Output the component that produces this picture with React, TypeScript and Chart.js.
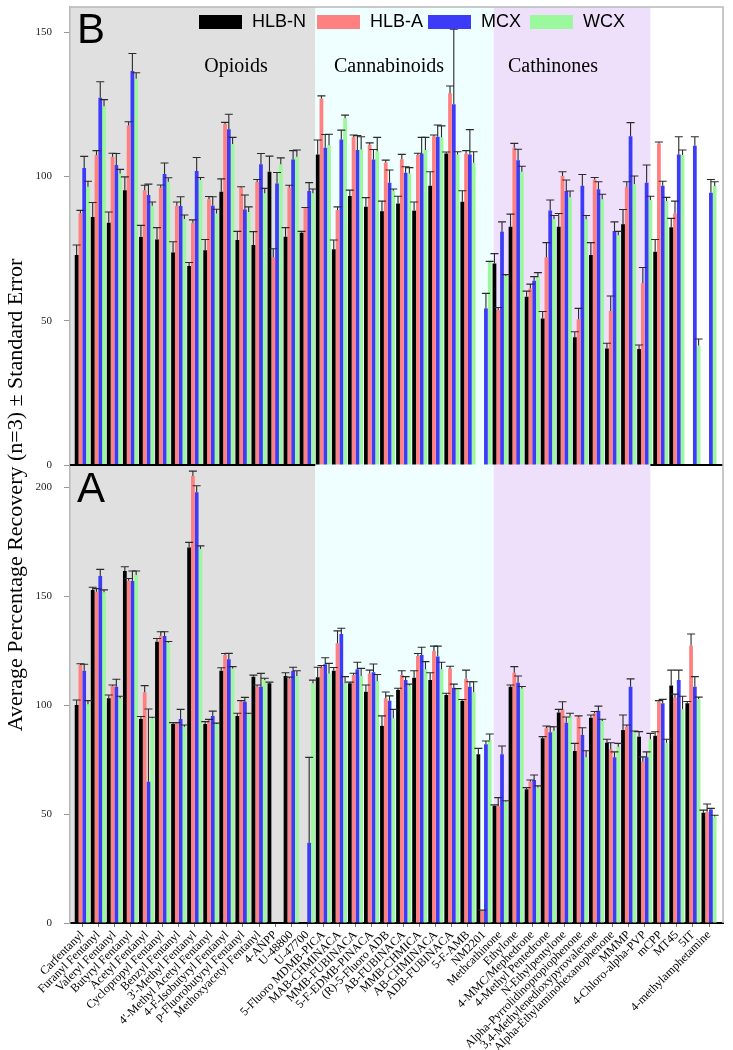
import React, { useEffect, useRef } from "react";
import { Chart, registerables } from "chart.js";

Chart.register(...registerables);

// ---------- categories ----------
const compounds = [
  "Carfentanyl", "Furanyl Fentanyl", "Valeryl Fentanyl", "Butyryl Fentanyl", "Acetyl Fentanyl",
  "Cyclopropyl Fentanyl", "Benzyl Fentanyl", "3'-Methyl Fentanyl", "4'-Methyl Acetyl Fentanyl",
  "4-F-Isobutyryl Fentanyl", "p-Fluorobutyryl Fentanyl", "Methoxyacetyl Fentanyl", "4-ANPP",
  "U-48800", "U-47700", "5-Fluoro MDMB-PICA", "MAB-CHMINACA", "MMB-FUBINACA", "5-F-EDMB-PINACA",
  "(R)-5-Fluoro ADB", "AB-FUBINACA", "MMB-CHMICA", "AB-CHMINACA", "ADB-FUBINACA", "5-F-AMB",
  "NM2201", "Methcathinone", "Ethylone", "4-MMC/Mephedrone", "4-Methyl Pentedrone",
  "N-Ethylpentylone", "Alpha-Pyrrolidinopropiophenone", "3,4-Methylenedioxypyrovalerone",
  "Alpha-Ethylaminohexanophenone", "MMMP", "4-Chloro-alpha-PVP", "mCPP", "MT45", "5IT",
  "4-methylamphetamine",
];

const seriesNames = ["HLB-N", "HLB-A", "MCX", "WCX"];
const classNames = ["Opioids", "Cannabinoids", "Cathinones"];
const panelNames = ["B", "A"];
const yTicksB = [0, 50, 100, 150];
const yTicksA = [0, 50, 100, 150, 200];
const yTitle = "Average Percentage Recovery (n=3) \u00b1 Standard Error";

// ---------- panel B (top) ----------
const bHlbN = [72.8, 86, 84, 95.3, 79.1, 78.2, 73.7, 69, 74.5, 94.7, 78, 76.3, 101.7, 79.1, 80.5, 107.7, 74.8, 93.3, 89.5, 88, 90.7, 88.2, 96.8, 108, 91.3, null, 69.9, 82.6, 58.3, 50.8, 82.6, 44.3, 72.8, 40.4, 83.5, 40.2, 73.9, 82.4, null, null];
const bHlbNErr = [3.5, 5, 3.7, 4.6, 4, 4.1, 3.7, 1.2, 3.7, 4.5, 3, 4.6, 5.4, 3.2, 0.5, 5, 3.2, 2, 3.2, 3.5, 2.5, 3, 4.9, 0.5, 3.8, null, 3.4, 4.4, 2, 2.4, 4.6, 1.9, 4.3, 1.8, 5.1, 1.4, 4.3, 3.1, null, null];
const bHlbA = [87.3, 107.5, 106.9, 117.7, 95.3, 96.1, 89.9, 84, 92.1, 118.2, 96.1, 98.1, 72, 96.2, 89, 127.1, 88.4, 113.8, 111, 104.9, 106, 107.5, 114, 128.9, 108, null, 53.7, 110, 61.2, 72, 100.2, 50.5, 99, 53.4, 96.5, 63, 111.5, 87.2, null, null];
const bHlbAErr = [1, 1.5, 1.2, 1.3, 1.7, 1, 1.3, 1, 1, 0.6, 0.4, 0.9, 3, 0.8, 0.3, 0.9, 1.1, 0.6, 0.7, 0.8, 1.7, 0.6, 0.4, 2.5, 1, null, 0.9, 1.5, 1.5, 5.1, 1.5, 3.8, 0.7, 5.2, 1.7, 5.5, 0.5, 4.3, null, null];
const bMcx = [103, 127.3, 104, 136.6, 93.6, 100.9, 89.8, 101.9, 89.9, 116.4, 88.6, 104.3, 97.6, 105.9, 95, 110, 112.9, 109.2, 105.9, 97.9, 101.3, 108, 113.8, 125.1, 107.7, 54.3, 80.9, 105.7, 63.9, 88.2, 95, 96.8, 95.6, 81.1, 114, 97.9, 96.8, 107.7, 110.7, 94.4];
const bMcxErr = [4, 5.6, 4, 6.1, 3.8, 3.8, 3.2, 4.7, 3.1, 5.2, 5, 3.7, 3.8, 3.1, 2.9, 4.6, 3.2, 5, 3.5, 4.4, 2.1, 5.6, 4.1, 26, 8.6, 5.2, 3.4, 3.8, 1.4, 3.7, 3.8, 3.9, 2.6, 3.2, 4.7, 6.1, 1.6, 6.1, 3.1, 4.6];
const bWcx = [96.5, 124.4, 101.1, 133.9, 89.9, 98.2, 85.3, 98.8, 87.2, 111.3, 87.7, 94.2, 104.3, 106.9, 94.2, 110.9, 120.2, 109.4, 108.8, 95.1, 101.1, 109.2, 113.6, 107.7, 104.8, 70.3, 65.5, 101.7, 65.3, 85.3, 92.8, 85.2, 92.1, 79.7, 97.4, 91.9, 91.5, 107.5, 41.4, 96.7];
const bWcxErr = [1.9, 2.3, 1.4, 2.1, 1.3, 1.4, 1.4, 0.9, 1.5, 2.3, 1.8, 1.7, 2.2, 2.3, 1.5, 3.8, 1.1, 4.4, 4.8, 0.6, 2, 4.4, 4, 0.9, 3.8, 0.3, 0.5, 1.9, 1.4, 1.2, 2.2, 1.3, 1.8, 1.3, 2.8, 1.3, 1.3, 1.7, 2.3, 1.5];

// ---------- panel A (bottom) ----------
const aHlbN = [100, 152.8, 103.1, 161.5, 93.6, 129, 91.3, 172.3, 91.3, 115.7, 95, 113, 110, 113.3, null, 112.7, 115.7, 110, 106.1, 90.4, 106.9, 112.5, 111.5, 104.6, 102, 77.4, 53.8, 108.4, 61.3, 84.7, 96.6, 78.9, 94.2, 82.7, 88.5, 85.5, 85.9, 108.9, 100.8, 50.6];
const aHlbNErr = [2.3, 1.2, 1.5, 1.9, 1.1, 1.5, 0.6, 2.3, 1.1, 1.4, 1.2, 0.7, 0.5, 1.5, null, 4.6, 1.5, 0.5, 3.1, 4.6, 0.8, 3.2, 3.3, 0.8, 0.5, 2.7, 0.4, 0.8, 0.8, 0.8, 1.4, 3.5, 1.2, 1.6, 6.9, 2.3, 1.8, 7.1, 0.8, 1.2];
const aHlbA = [118.3, 152, 108.7, 157, 105.8, 131.8, 91.6, 205, 92.8, 122.9, 101.5, 108.4, null, 112, null, 117.6, 128.3, 113.8, 114.5, 103.1, 113.8, 122.5, 124.8, 116.8, 112, 5.6, 53.7, 114.8, 64.8, 89.3, 98, 94.4, 96.2, 79.7, 90, 74, 101.5, 103.5, 127.2, 51];
const aHlbAErr = [0.6, 1.4, 0.5, 1, 3.1, 1.8, 0.3, 2.3, 0.6, 0.7, 0.5, 0.8, null, 0.8, null, 0.5, 5.7, 0.8, 1.5, 2.9, 1.9, 1.1, 2.2, 1, 4, 0.3, 3.8, 2.8, 0.8, 1.1, 3.5, 0.6, 0.8, 3, 0.8, 2.2, 0.5, 1.5, 5.4, 3.6];
const aMcx = [115.7, 159.2, 108.4, 156.9, 64.8, 131.7, 93.6, 197.6, 95, 121, 101.5, 108.4, null, 115.6, 36.8, 118.7, 132.6, 116.4, 115, 102, 111.5, 122.9, 122.2, 107.9, 108.4, 82, 77.4, 110.2, 65.6, 87.5, 91.9, 86.2, 97.4, 76, 108.4, 76, 100.8, 111.5, 108.4, 52.1];
const aMcxErr = [3, 3, 3.4, 4.6, 33.4, 1.9, 4.4, 3, 2.2, 2.7, 2, 6.1, null, 1.7, 39.2, 3, 2.6, 3.2, 3.8, 2.2, 1.5, 3.6, 4.8, 1.7, 2.3, 1.5, 3.8, 3.1, 2.3, 2.5, 2.6, 3.4, 2.1, 2.5, 3.6, 2.5, 1.8, 4.5, 4.6, 0.5];
const aWcx = [100.3, 151.7, 103.1, 159.6, 93.9, 128.6, 90, 171.6, 91.3, 116.8, 95.9, 111.5, null, 113.3, 110, 114.5, 110, 113.3, 111, 93.9, 108.9, 116.4, 116.4, 107.2, 105.8, 83.9, 55.6, 107.6, 62.2, 88.2, 95, 76, 92.7, 80.9, 87.5, 84.3, 82.7, 98, 102.8, 48.8];
const aWcxErr = [1.7, 1.1, 0.9, 1.9, 0.5, 0.5, 0.8, 1.4, 0.4, 0.8, 0.3, 0.8, null, 2.4, 1.4, 4.6, 3, 3.5, 3, 4.1, 0.7, 3.5, 3.2, 0.3, 4.9, 2.8, 0.5, 0.9, 0.7, 1.8, 1.2, 3, 0.8, 1.5, 0.6, 2.7, 1.6, 6, 0.8, 0.6];

const SERIF = '"Liberation Serif", "Times New Roman", serif';
const SANS = '"Liberation Sans", Arial, sans-serif';
const COLORS = ["#000000", "#FF8080", "#3C3CF8", "#9CF89C"];

export default function App() {
  const ref = useRef<HTMLCanvasElement>(null);

  useEffect(() => {
    const canvas = ref.current;
    if (!canvas) return;

    const panelA = [aHlbN, aHlbA, aMcx, aWcx];
    const panelAErr = [aHlbNErr, aHlbAErr, aMcxErr, aWcxErr];
    const panelB = [bHlbN, bHlbA, bMcx, bWcx];
    const panelBErr = [bHlbNErr, bHlbAErr, bMcxErr, bWcxErr];

    const datasets: any[] = [];
    const errList: any[] = [];
    seriesNames.forEach((name, s) => {
      datasets.push({
        label: name + " A",
        data: panelA[s].map((v, i) => ({ x: i, y: v })),
        backgroundColor: COLORS[s],
        yAxisID: "yA",
        stack: "s" + s,
      });
      errList.push(panelAErr[s]);
    });
    seriesNames.forEach((name, s) => {
      datasets.push({
        label: name + " B",
        data: panelB[s].map((v, i) => ({ x: i, y: v })),
        backgroundColor: COLORS[s],
        yAxisID: "yB",
        stack: "s" + s,
      });
      errList.push(panelBErr[s]);
    });

    const decor = {
      id: "decor",
      beforeDraw(chart: any) {
        const { ctx, chartArea: ca, scales } = chart;
        const x = scales.x;
        ctx.save();
        ctx.fillStyle = "#ffffff";
        ctx.fillRect(0, 0, chart.width, chart.height);
        const bands = [
          { from: ca.left, to: x.getPixelForValue(14.5), color: "#E0E0E0" },
          { from: x.getPixelForValue(14.5), to: x.getPixelForValue(25.6), color: "#EFFEFF" },
          { from: x.getPixelForValue(25.6), to: x.getPixelForValue(35.35), color: "#EEE0FB" },
        ];
        bands.forEach((b) => {
          ctx.fillStyle = b.color;
          ctx.fillRect(b.from, ca.top, b.to - b.from, ca.bottom - ca.top);
        });
        ctx.restore();
      },
      afterDatasetsDraw(chart: any) {
        const { ctx, chartArea: ca, scales } = chart;
        const x = scales.x;
        ctx.save();
        // error bars
        chart.data.datasets.forEach((ds: any, di: number) => {
          const meta = chart.getDatasetMeta(di);
          const ys = scales[ds.yAxisID];
          const errs = errList[di];
          meta.data.forEach((bar: any, i: number) => {
            const v = ds.data[i].y;
            const e = errs[i];
            if (v == null || e == null) return;
            const yBar = ys.getPixelForValue(v);
            const yTop = ys.getPixelForValue(v + e);
            const xc = bar.x;
            ctx.strokeStyle = "#2a2a2a";
            ctx.lineWidth = 1.1;
            ctx.beginPath();
            ctx.moveTo(xc, yBar);
            ctx.lineTo(xc, yTop);
            ctx.moveTo(xc - 4, yTop);
            ctx.lineTo(xc + 4, yTop);
            ctx.stroke();
          });
        });
        // zero line of top panel
        const yB0 = scales.yB.getPixelForValue(0);
        ctx.strokeStyle = "#000";
        ctx.lineWidth = 2;
        ctx.beginPath();
        ctx.moveTo(ca.left, yB0);
        ctx.lineTo(x.getPixelForValue(14.5), yB0);
        ctx.moveTo(x.getPixelForValue(35.35), yB0);
        ctx.lineTo(ca.right, yB0);
        ctx.stroke();
        // frame top & right
        ctx.strokeStyle = "#b8b8b8";
        ctx.lineWidth = 1.5;
        ctx.beginPath();
        ctx.moveTo(ca.left, ca.top);
        ctx.lineTo(ca.right, ca.top);
        ctx.lineTo(ca.right, ca.bottom);
        ctx.stroke();

        // legend
        const boxX = [199, 317, 428, 530];
        ctx.font = "18px " + SANS;
        ctx.textBaseline = "middle";
        ctx.textAlign = "left";
        seriesNames.forEach((n, s) => {
          ctx.fillStyle = COLORS[s];
          ctx.fillRect(boxX[s], 15, 43, 14);
          ctx.fillStyle = "#000";
          ctx.fillText(n, boxX[s] + 53, 22);
        });
        // panel letters
        ctx.font = "42px " + SANS;
        ctx.textBaseline = "alphabetic";
        ctx.fillText(panelNames[0], 77, 43);
        ctx.fillText(panelNames[1], 77, 502);
        // class labels
        ctx.font = "20px " + SERIF;
        ctx.textAlign = "center";
        ctx.fillText(classNames[0], 236, 72);
        ctx.fillText(classNames[1], 389, 72);
        ctx.fillText(classNames[2], 553, 72);
        // y title
        ctx.translate(16, 495);
        ctx.rotate(-Math.PI / 2);
        ctx.font = "22px " + SERIF;
        ctx.textAlign = "center";
        ctx.textBaseline = "middle";
        ctx.fillText(yTitle, 0, 0);
        ctx.restore();
      },
    };

    const yCommon = (max: number, ticks: number[]) => ({
      type: "linear",
      position: "left",
      stack: "panels",
      stackWeight: 1,
      stacked: false,
      min: 0,
      max,
      afterFit: (s: any) => {
        s.width = 70;
        s.paddingTop = 0;
        s.paddingBottom = 0;
      },
      afterBuildTicks: (s: any) => {
        s.ticks = ticks.map((v) => ({ value: v }));
      },
      ticks: {
        stepSize: 50,
        includeBounds: false,
        font: { family: SERIF, size: 11 },
        color: "#222",
        padding: 12,
      },
      grid: { drawOnChartArea: false, drawTicks: true, tickLength: 6, color: "#999" },
      border: { display: true, color: "#b8b8b8", width: 1.5 },
    });

    const chart = new Chart(canvas, {
      type: "bar",
      data: { datasets },
      options: {
        animation: false,
        responsive: false,
        events: [],
        layout: { padding: { top: 7, right: 10, left: 0, bottom: 0 } },
        plugins: { legend: { display: false }, tooltip: { enabled: false } },
        datasets: { bar: { categoryPercentage: 0.94, barPercentage: 1 } } as any,
        scales: {
          x: {
            type: "linear",
            offset: false,
            min: -0.765,
            max: 39.87,
            afterFit: (s: any) => {
              s.height = 127;
              s.paddingLeft = 0;
              s.paddingRight = 0;
            },
            ticks: {
              stepSize: 1,
              autoSkip: false,
              maxRotation: 45,
              minRotation: 45,
              includeBounds: false,
              padding: 1,
              color: "#000",
              font: { family: SERIF, size: 12 },
              callback: (v: any) => {
                const k = Math.round(Number(v));
                return Math.abs(Number(v) - k) < 1e-6 && compounds[k] ? compounds[k] : "";
              },
            },
            grid: { offset: false, drawOnChartArea: false, drawTicks: true, tickLength: 4, color: "#777" },
            border: { display: true, color: "#000", width: 2 },
          },
          yA: yCommon(210.1, yTicksA),
          yB: yCommon(158.8, yTicksB),
        } as any,
      },
      plugins: [decor],
    } as any);

    return () => chart.destroy();
  }, []);

  return (
    <div style={{ position: "fixed", left: 0, top: 0, width: 733, height: 1050, background: "#fff" }}>
      <canvas ref={ref} width={733} height={1050} style={{ display: "block", width: 733, height: 1050 }} />
    </div>
  );
}
